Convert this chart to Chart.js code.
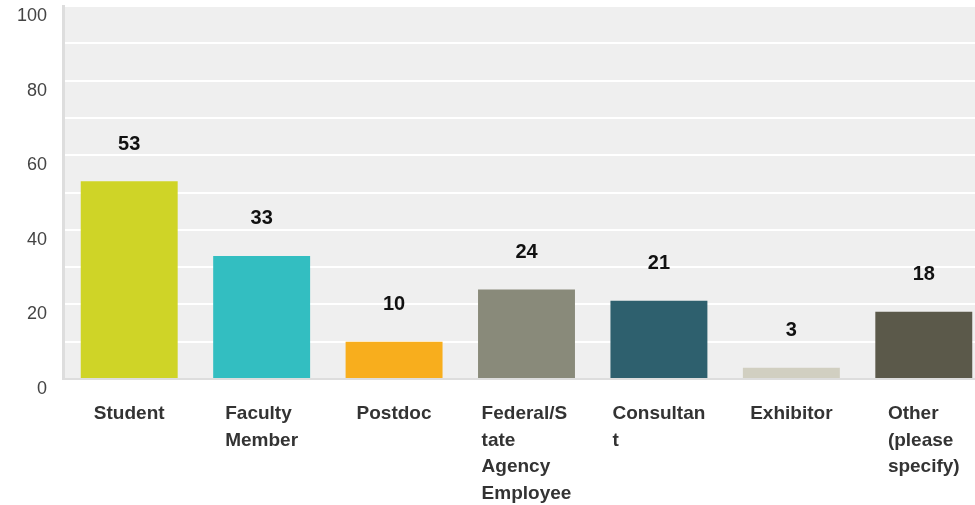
<!DOCTYPE html>
<html>
<head>
<meta charset="utf-8">
<script src="https://cdn.jsdelivr.net/npm/chart.js@4"></script>
<style>
  html, body { margin: 0; padding: 0; background: #fff; overflow: hidden; }
  #wrap { width: 990px; height: 505px; }
</style>
</head>
<body>
<div id="wrap"><canvas id="chart1"></canvas></div>
<script>
var categories = [
  ["Student"],
  ["Faculty", "Member"],
  ["Postdoc"],
  ["Federal/S", "tate", "Agency", "Employee"],
  ["Consultan", "t"],
  ["Exhibitor"],
  ["Other", "(please", "specify)"]
];
var values = [53, 33, 10, 24, 21, 3, 18];
var barColors = ["#cfd427", "#33bec1", "#f8ae1d", "#898a7a", "#2e606e", "#d1cfc1", "#5b594a"];
var yTicks = [0, 20, 40, 60, 80, 100];

// grey plot background
var plotBg = {
  id: 'plotBg',
  beforeDraw(chart) {
    var a = chart.chartArea, ctx = chart.ctx;
    ctx.save();
    ctx.fillStyle = '#efefef';
    ctx.fillRect(a.left, a.top, a.right - a.left, a.bottom - a.top);
    ctx.restore();
  }
};

// value numbers over the bars and wrapped category names below
var textLayer = {
  id: 'textLayer',
  afterDraw(chart) {
    var ctx = chart.ctx;
    var x = chart.scales.x, y = chart.scales.y;
    ctx.save();
    ctx.textBaseline = 'middle';
    ctx.textAlign = 'center';
    ctx.fillStyle = '#111';
    ctx.font = 'bold 20px "Liberation Sans", Arial, sans-serif';
    values.forEach(function (v, i) {
      ctx.fillText(v, x.getPixelForValue(i), y.getPixelForValue(v) - 37);
    });

    ctx.textAlign = 'left';
    ctx.fillStyle = '#333';
    ctx.font = 'bold 19px "Liberation Sans", Arial, sans-serif';
    categories.forEach(function (lines, i) {
      var w = 0;
      lines.forEach(function (l) { w = Math.max(w, ctx.measureText(l).width); });
      var left = x.getPixelForValue(i) - w / 2;
      lines.forEach(function (l, j) {
        ctx.fillText(l, left, 414 + j * 26.5);
      });
    });
    ctx.restore();
  }
};

new Chart("chart1", {
  type: 'bar',
  data: {
    labels: categories.map(function (c) { return c.join(' '); }),
    datasets: [{
      data: values,
      backgroundColor: barColors,
      borderWidth: 0,
      barPercentage: 0.732,
      categoryPercentage: 1
    }]
  },
  options: {
    responsive: true,
    maintainAspectRatio: false,
    animation: false,
    layout: { padding: { top: 6, right: 0, left: 0, bottom: 0 } },
    plugins: {
      legend: { display: false },
      tooltip: { enabled: false }
    },
    scales: {
      x: {
        grid: { display: false },
        border: { color: '#dddddd', width: 2 },
        ticks: { display: false },
        afterFit(scale) {
          scale.height = 126;
          scale.paddingLeft = 0; scale.paddingRight = 0;
        }
      },
      y: {
        min: 0,
        max: 100,
        grid: { color: '#ffffff', lineWidth: 2, drawTicks: false },
        border: { color: '#dddddd', width: 3 },
        ticks: {
          stepSize: 10,
          padding: 16,
          labelOffset: 10,
          color: '#444',
          font: { size: 18, family: '"Liberation Sans", Arial, sans-serif' },
          callback: function (v) { return yTicks.indexOf(v) >= 0 ? v : ''; }
        },
        afterFit(scale) {
          scale.width = 63;
          scale.paddingTop = 0; scale.paddingBottom = 0;
        }
      }
    }
  },
  plugins: [plotBg, textLayer]
});
</script>
</body>
</html>
